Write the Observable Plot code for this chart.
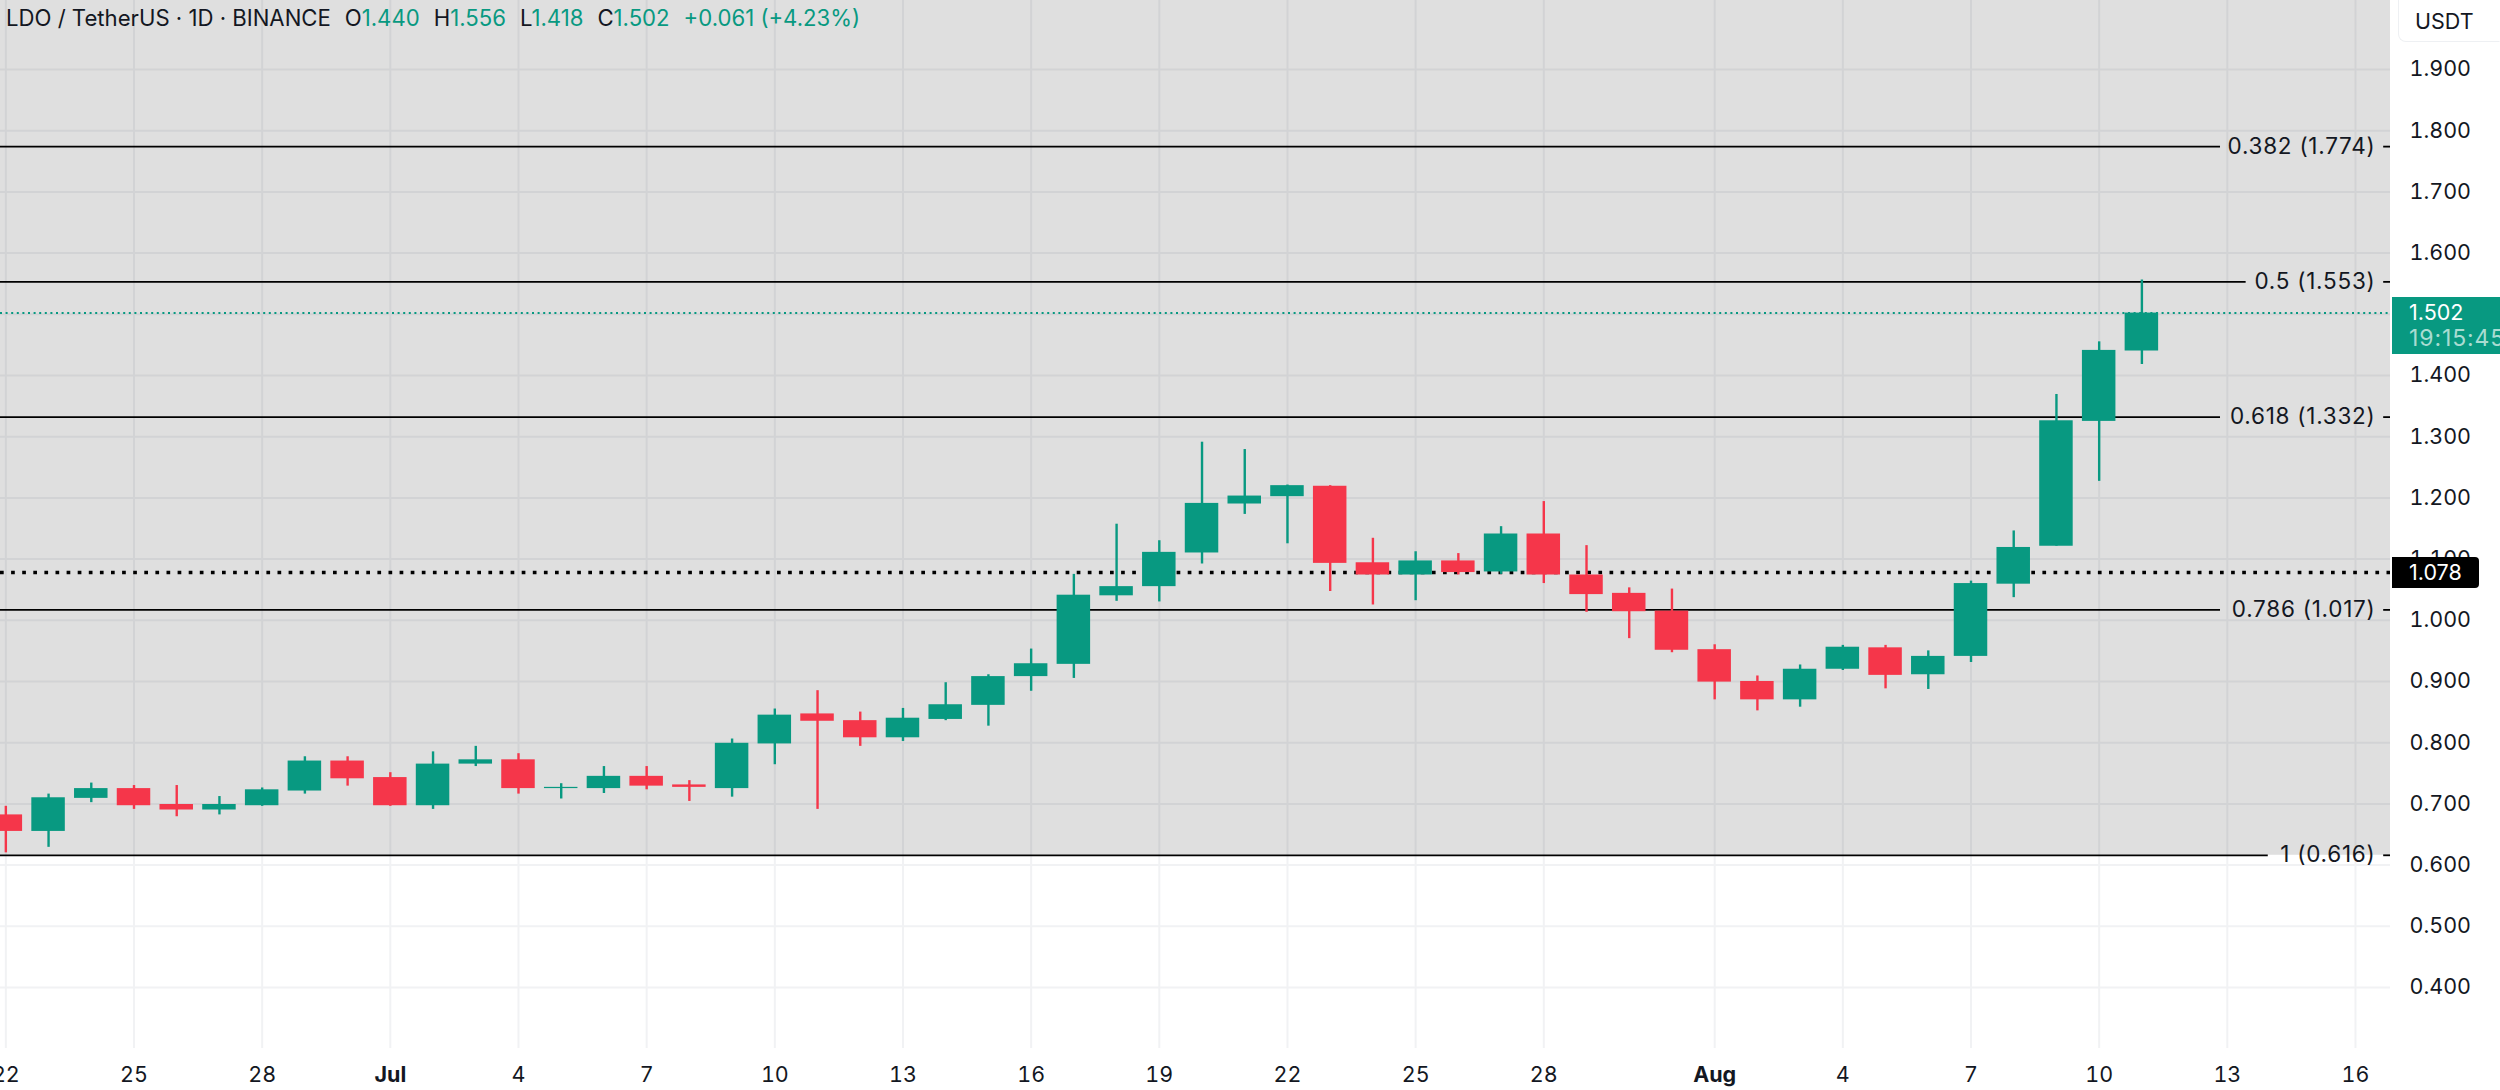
<!DOCTYPE html>
<html>
<head>
<meta charset="utf-8">
<script src="https://cdn.jsdelivr.net/npm/d3@7"></script>
<script src="https://cdn.jsdelivr.net/npm/@observablehq/plot@0.6"></script>
<style>
  html, body { margin: 0; padding: 0; background: #fff; width: 2500px; height: 1090px; overflow: hidden; }
  #wrap { position: relative; width: 2500px; height: 1090px; font-family: Inter, sans-serif; }
  #wrap svg { display: block; }
  #wrap .fib-label text, #wrap text.fib-label, .fib-label { letter-spacing: 0.75px; }
  #legend { position: absolute; left: 6px; top: 5px; display: flex; gap: 14px; font-size: 22.15px; line-height: 26px; color: #131722; white-space: pre; }
  #legend b { font-weight: 400; color: #089981; }
  #unit { position: absolute; left: 2398px; top: -2px; width: 102px; height: 44px; box-sizing: border-box; border: 1px solid #eef0f3; border-top-color: transparent; border-right-color: transparent; border-radius: 0 0 0 8px; font-size: 21.5px; line-height: 44px; padding-left: 16px; color: #131722; }
  .tag { position: absolute; left: 2392px; color: #fff; font-size: 21.5px; padding-left: 17px; box-sizing: border-box; overflow: hidden; white-space: nowrap; }
  #tagNow { width: 108px; height: 57px; background: #089981; line-height: 26px; padding-top: 2px; }
  #tagNow span { display: block; color: #a9dcd2; font-size: 23px; letter-spacing: 0.9px; }
  #tagKey { width: 87px; height: 31px; background: #000; line-height: 31px; border-radius: 0 4px 4px 0; }
</style>
</head>
<body>
<div id="wrap"></div>
<script>
const dates = [
  "2025-06-22","2025-06-23","2025-06-24","2025-06-25","2025-06-26","2025-06-27","2025-06-28","2025-06-29","2025-06-30",
  "2025-07-01","2025-07-02","2025-07-03","2025-07-04","2025-07-05","2025-07-06","2025-07-07","2025-07-08","2025-07-09",
  "2025-07-10","2025-07-11","2025-07-12","2025-07-13","2025-07-14","2025-07-15","2025-07-16","2025-07-17","2025-07-18",
  "2025-07-19","2025-07-20","2025-07-21","2025-07-22","2025-07-23","2025-07-24","2025-07-25","2025-07-26","2025-07-27",
  "2025-07-28","2025-07-29","2025-07-30","2025-07-31","2025-08-01","2025-08-02","2025-08-03","2025-08-04","2025-08-05",
  "2025-08-06","2025-08-07","2025-08-08","2025-08-09","2025-08-10","2025-08-11"
];
const opens = [
  .682,.655,.709,.725,.699,.690,.697,.721,.770,
  .743,.697,.765,.772,.725,.725,.745,.731,.725,
  .798,.847,.836,.808,.838,.861,.908,.928,1.040,
  1.055,1.110,1.190,1.202,1.219,1.094,1.074,1.097,1.079,
  1.141,1.074,1.044,1.015,.952,.900,.870,.920,.955,
  .911,.941,1.059,1.121,1.325,1.440
];
const highs = [
  .696,.716,.734,.730,.730,.712,.726,.777,.777,
  .751,.785,.794,.782,.733,.761,.761,.738,.806,
  .855,.885,.850,.856,.898,.911,.953,1.075,1.157,
  1.130,1.291,1.279,1.221,1.220,1.134,1.112,1.109,1.153,
  1.194,1.122,1.053,1.051,.960,.909,.927,.959,.959,
  .950,1.064,1.146,1.369,1.455,1.556
];
const lows = [
  .620,.629,.702,.691,.679,.682,.696,.716,.729,
  .696,.691,.761,.716,.708,.717,.723,.704,.711,
  .764,.691,.794,.802,.836,.827,.884,.905,1.031,
  1.030,1.092,1.173,1.125,1.047,1.025,1.032,1.074,1.075,
  1.060,1.013,.970,.947,.870,.852,.858,.918,.888,
  .887,.931,1.037,1.121,1.227,1.418
];
const closes = [
  .655,.710,.725,.697,.690,.699,.723,.770,.741,
  .697,.765,.772,.725,.727,.745,.729,.727,.799,
  .845,.835,.808,.840,.862,.908,.929,1.041,1.055,
  1.111,1.191,1.203,1.220,1.093,1.074,1.097,1.078,1.141,
  1.074,1.042,1.014,.951,.899,.870,.920,.956,.910,
  .941,1.060,1.119,1.326,1.441,1.502
];

const fibRatios = ["0.382","0.5","0.618","0.786","1"];
const fibPrices = [1.774,1.553,1.332,1.017,0.616];
const fibLineEnds = ["2025-08-12T20:10Z","2025-08-13T10:34Z","2025-08-12T20:10Z","2025-08-12T20:10Z","2025-08-13T23:00Z"];
const fibStubStart = "2025-08-16T15:50Z";

const priceTicks = [0.4,0.5,0.6,0.7,0.8,0.9,1.0,1.1,1.2,1.3,1.4,1.5,1.6,1.7,1.8,1.9];
const dayTickDates = ["2025-06-22","2025-06-25","2025-06-28","2025-07-04","2025-07-07","2025-07-10","2025-07-13","2025-07-16","2025-07-19","2025-07-22","2025-07-25","2025-07-28","2025-08-04","2025-08-07","2025-08-10","2025-08-13","2025-08-16"];
const monthTickDates = ["2025-07-01","2025-08-01"];

const lastPrice = 1.502;
const keyLevel = 1.078;
const countdown = "19:15:45";
const xDomain = ["2025-06-21T21:00Z","2025-08-16T19:40Z"];
const yDomain = [0.3003,2.01275];

const UP = "#089981", DOWN = "#f5364a", INK = "#131722", GRID = "#f1f2f4";
const BODY_HALF_DAY = 0.392;
const day = 864e5;
const toDate = d => new Date(d);

const rows = dates.map((d, i) => ({
  date: toDate(d), open: opens[i], high: highs[i], low: lows[i], close: closes[i],
  color: closes[i] >= opens[i] ? UP : DOWN,
  left: new Date(+toDate(d) - BODY_HALF_DAY * day),
  right: new Date(+toDate(d) + BODY_HALF_DAY * day)
}));
const fib = fibRatios.map((r, i) => ({ label: `${r} (${fibPrices[i].toFixed(3)})`, price: fibPrices[i], end: toDate(fibLineEnds[i]) }));
const xStart = toDate(xDomain[0]), xEnd = toDate(xDomain[1]);
const fontSize = 21.5;

const chart = Plot.plot({
  width: 2500, height: 1090,
  marginLeft: 0, marginRight: 110, marginTop: 0, marginBottom: 42,
  style: { background: "transparent", fontFamily: "Inter, sans-serif", overflow: "visible" },
  x: { type: "utc", domain: xDomain.map(toDate) },
  y: { type: "linear", domain: yDomain },
  marks: [
    Plot.gridX([...dayTickDates, ...monthTickDates].map(toDate), { stroke: GRID, strokeOpacity: 1, strokeWidth: 2 }),
    Plot.gridY(priceTicks, { stroke: GRID, strokeOpacity: 1, strokeWidth: 2 }),
    Plot.rect([{}], { x1: () => xStart, x2: () => xEnd, y1: () => fibPrices[4], y2: () => yDomain[1], fill: "#000", fillOpacity: 0.125 }),
    Plot.ruleY(fib, { y: "price", x1: () => xStart, x2: "end", stroke: "#000", strokeWidth: 1.8 }),
    Plot.ruleY(fib, { y: "price", x1: () => toDate(fibStubStart), x2: () => xEnd, stroke: "#000", strokeWidth: 1.8 }),
    Plot.text(fib, { y: "price", text: "label", frameAnchor: "right", textAnchor: "end", dx: -15, fill: INK, fontSize: 22.5, className: "fib-label" }),
    Plot.ruleY([keyLevel], { stroke: "#000", strokeWidth: 3.5, strokeDasharray: "3.7,7.4" }),
    Plot.ruleY([lastPrice], { stroke: UP, strokeWidth: 2, strokeDasharray: "2,3.6" }),
    Plot.ruleX(rows, { x: "date", y1: "low", y2: "high", stroke: "color", strokeWidth: 2.4 }),
    Plot.rect(rows, { x1: "left", x2: "right", y1: "open", y2: "close", fill: "color" }),
    Plot.axisY(priceTicks, { anchor: "right", label: null, tickSize: 0, tickPadding: 19, tickFormat: d3.format(".3f"), fill: INK, fontSize }),
    Plot.axisX(dayTickDates.map(toDate), { anchor: "bottom", label: null, tickSize: 0, tickPadding: 18, tickFormat: d3.utcFormat("%-d"), fill: INK, fontSize }),
    Plot.axisX(monthTickDates.map(toDate), { anchor: "bottom", label: null, tickSize: 0, tickPadding: 18, tickFormat: d3.utcFormat("%b"), fill: INK, fontSize, fontWeight: 700 })
  ]
});

const wrap = document.getElementById("wrap");
wrap.appendChild(chart);

const legend = document.createElement("div");
legend.id = "legend";
legend.innerHTML = `<span>LDO / TetherUS · 1D · BINANCE</span><span>O<b>${opens.at(-1).toFixed(3)}</b></span><span>H<b>${highs.at(-1).toFixed(3)}</b></span><span>L<b>${lows.at(-1).toFixed(3)}</b></span><span>C<b>${closes.at(-1).toFixed(3)}</b></span><span><b>+0.061 (+4.23%)</b></span>`;
wrap.appendChild(legend);

const unit = document.createElement("div");
unit.id = "unit";
unit.textContent = "USDT";
wrap.appendChild(unit);

const yScale = chart.scale("y");
const tagNow = document.createElement("div");
tagNow.id = "tagNow"; tagNow.className = "tag";
tagNow.style.top = (yScale.apply(lastPrice) - 15.5) + "px";
tagNow.innerHTML = `${lastPrice.toFixed(3)}<span>${countdown}</span>`;
wrap.appendChild(tagNow);

const tagKey = document.createElement("div");
tagKey.id = "tagKey"; tagKey.className = "tag";
tagKey.style.top = (yScale.apply(keyLevel) - 15.5) + "px";
tagKey.textContent = keyLevel.toFixed(3);
wrap.appendChild(tagKey);
</script>
</body>
</html>
